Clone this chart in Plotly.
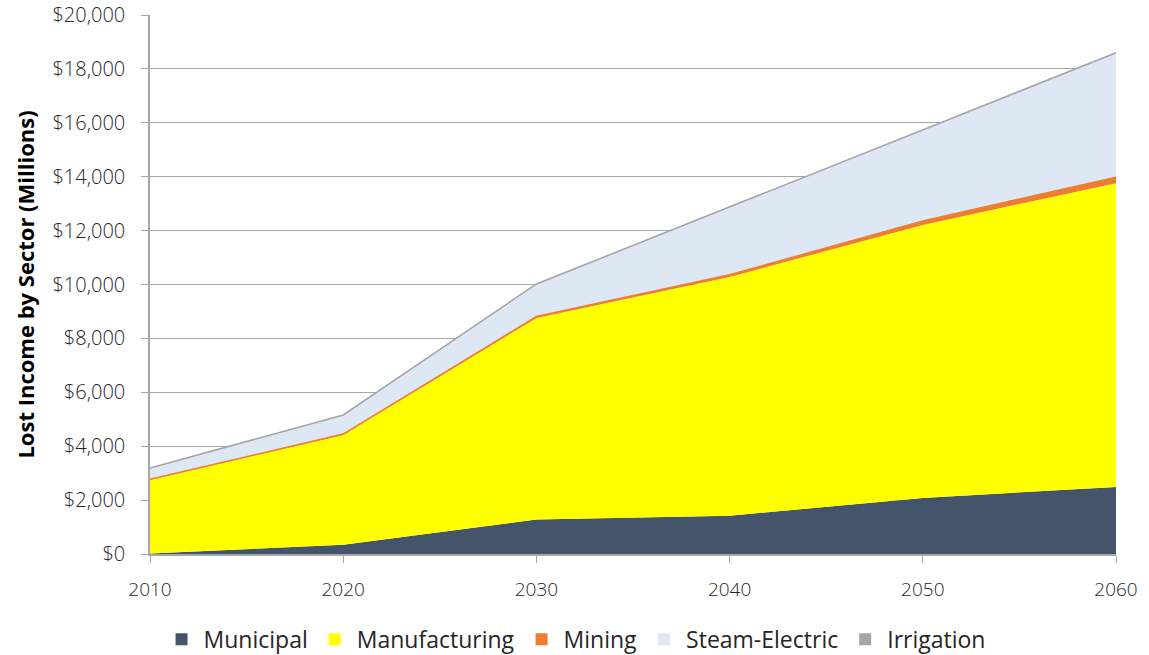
import plotly.graph_objects as go

# Lost income by water-use sector, stacked (millions of dollars)
years = [2010, 2020, 2030, 2040, 2050, 2060]
municipal = [20, 340, 1280, 1420, 2080, 2490]
manufacturing = [2730, 4080, 7480, 8860, 10130, 11270]
mining = [20, 30, 50, 80, 150, 220]
steam_electric = [400, 690, 1190, 2500, 3340, 4590]
irrigation = [20, 20, 20, 20, 30, 30]

sectors = ["Municipal", "Manufacturing", "Mining", "Steam-Electric", "Irrigation"]
values = [municipal, manufacturing, mining, steam_electric, irrigation]
colors = ["#44546a", "#ffff00", "#ed7d31", "#dde8f4", "#a5a5a5"]
line_widths = [0, 0, 1.5, 0, 1.5]

fig = go.Figure()
for name, vals, col, lw in zip(sectors, values, colors, line_widths):
    fig.add_trace(go.Scatter(
        x=years, y=vals, name=name, mode="lines",
        stackgroup="one", fillcolor=col,
        line=dict(color=col, width=lw),
        showlegend=False, hoverinfo="x+y+name",
    ))

# square legend keys
for name, col in zip(sectors, colors):
    fig.add_trace(go.Scatter(
        x=[None], y=[None], name=name, mode="markers",
        marker=dict(symbol="square", size=16, color=col),
        showlegend=True,
    ))

font_family = "Open Sans, Lato, sans-serif"
text_color = "#262626"
fig.update_layout(
    width=1149, height=655,
    margin=dict(l=150, r=33, t=15, b=101),
    paper_bgcolor="white", plot_bgcolor="white",
    font=dict(family=font_family, color=text_color, size=18),
    legend=dict(
        orientation="h", traceorder="normal",
        x=0.44, xanchor="center",
        yref="container", y=0.024, yanchor="middle",
        font=dict(size=23, color=text_color),
        itemsizing="constant", itemwidth=34,
    ),
    xaxis=dict(
        range=[2010, 2060], tickvals=years, ticktext=[str(y) for y in years],
        showgrid=False, showline=True, linecolor="#a6a6a6", linewidth=1.5,
        ticks="outside", ticklen=7, tickcolor="#a6a6a6",
        tickfont=dict(size=19, color=text_color, weight=300),
        ticklabelstandoff=10, zeroline=False, automargin=False,
    ),
    yaxis=dict(
        range=[0, 20000], dtick=2000, tickprefix="$", tickformat=",d",
        showgrid=True, gridcolor="#a6a6a6", gridwidth=1,
        showline=True, linecolor="#a6a6a6", linewidth=1.5,
        ticks="outside", ticklen=7, tickcolor="#a6a6a6",
        tickfont=dict(size=20, color=text_color, weight=300),
        ticklabelstandoff=12, zeroline=False, automargin=False,
        title=dict(text="<b>Lost Income by Sector (Millions)</b>",
                   font=dict(size=22, color="#000000"), standoff=12),
    ),
)

fig.write_html("out.html")
